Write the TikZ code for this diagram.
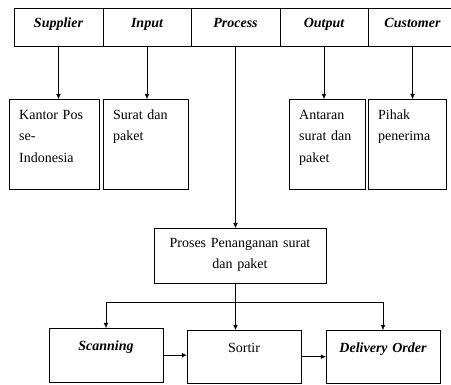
\documentclass[tikz,border=0pt]{standalone}
\usepackage{fontspec}
\setmainfont{Liberation Serif}
\usepackage{tikz}
\usetikzlibrary{
	arrows.meta
}
\tikzset{
	x=1pt,
	y=-1pt,
	line width=0.8pt,
	every edge/.append style={
		-{Latex[length=5pt,width=4.5pt]}
	},
	arr/.style={
		-{Latex[length=5pt,width=4.5pt]}
	},
	cell/.style={
		draw, inner sep=0pt, minimum width=88.5pt, minimum height=38pt,
		text height=11pt, text depth=9pt,
		font=\fontsize{14}{17}\selectfont\bfseries\itshape
	},
	topbox/.style={
		draw, anchor=north west, align=left, inner xsep=10pt, inner ysep=0pt,
		text height=20pt, text depth=70pt,
		font=\fontsize{14}{21.5}\selectfont
	},
	lowbox/.style={
		draw, anchor=north, align=center, inner sep=0pt, text width=114pt,
		text height=22pt, text depth=31pt,
		font=\fontsize{14}{21}\selectfont
	}
}

\begin{document}
\begin{tikzpicture}
		\clip (0,0) rectangle (451,385);
		\draw
			node[cell] (supplier) at (58.5,27) {Supplier}
			node[cell] (input)    at (147,27)  {Input}
			node[cell] (process)  at (235.5,27) {Process}
			node[cell] (output)   at (324,27)  {Output}
			node[cell] (customer) at (412.5,27) {Customer}

			node[topbox,text width=70pt] (kantor)   at (9,99)   {Kantor Pos\\se-\\Indonesia}
			node[topbox,text width=65pt] (surat)    at (103,99) {Surat dan\\paket}
			node[topbox,text width=56pt] (antaran)  at (289,99) {Antaran\\surat dan\\paket}
			node[topbox,text width=58pt] (penerima) at (368,99) {Pihak\\penerima}

			node[lowbox,text width=172pt,text height=19pt,text depth=36pt] (proses) at (240,228)
				{Proses Penanganan surat\\dan paket}

			node[lowbox,text depth=32pt] (scanning) at (106,328) {\bfseries\itshape Scanning}
			node[lowbox] (sortir)   at (244,330) {Sortir}
			node[lowbox] (delivery) at (383,330) {\bfseries\itshape Delivery Order}

			(supplier.south) edge (supplier.south |- kantor.north)
			(input.south)    edge (input.south |- surat.north)
			(output.south)   edge (output.south |- antaran.north)
			(customer.south) edge (customer.south |- penerima.north)
			(process.south)  edge (process.south |- proses.north)

			(scanning.east) edge (scanning.east -| sortir.west)
			(sortir.east)   edge (sortir.east -| delivery.west)
		;
		% split below the process box
		\draw (proses.south -| process.south) -- ++(0,19) coordinate (split);
		\draw[arr] (split) -| (scanning.north);
		\draw[arr] (split) -| (delivery.north);
		\draw[arr] (split) -- (split |- sortir.north);
	\end{tikzpicture}
\end{document}
